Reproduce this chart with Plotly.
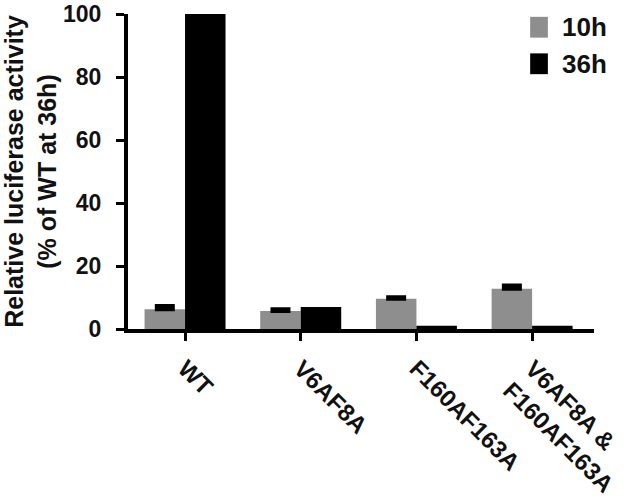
import plotly.graph_objects as go

# Data
categories = ["WT", "V6AF8A", "F160AF163A", "V6AF8A &<br>F160AF163A"]
vals_10h = [6.3, 5.7, 9.6, 12.8]
err_10h = [1.0, 0.6, 0.5, 1.0]
vals_36h = [100.0, 7.0, 1.0, 1.0]
series_names = ["10h", "36h"]

FONT = "Liberation Sans, Arial, sans-serif"
GRAY = "#8e8e8e"

fig = go.Figure()
fig.add_trace(go.Bar(
    x=categories, y=vals_10h, name=series_names[0], marker_color=GRAY,
    marker_line_width=0,
    error_y=dict(type="data", array=err_10h, arrayminus=[0] * 4, symmetric=False,
                 color="black", thickness=4, width=10),
))
fig.add_trace(go.Bar(
    x=categories, y=vals_36h, name=series_names[1], marker_color="black",
    marker_line_width=0,
))

# Legend drawn by hand so the swatches match the reference size
legend_items = [(GRAY, series_names[0], 0.925), ("black", series_names[1], 0.809)]
for color, label, y0 in legend_items:
    fig.add_shape(type="rect", xref="paper", yref="paper", x0=0.863, x1=0.901,
                  y0=y0, y1=y0 + 0.066, fillcolor=color, line_width=0)
    fig.add_annotation(xref="paper", yref="paper", x=0.928, y=y0 + 0.033,
                       text=label, showarrow=False, xanchor="left", yanchor="middle",
                       font=dict(family=FONT, size=26, color="#111", weight="bold"))

fig.update_layout(
    width=641, height=501,
    margin=dict(l=128, r=47, t=14, b=172, autoexpand=False),
    paper_bgcolor="white", plot_bgcolor="white",
    barmode="group", bargap=0.3, bargroupgap=0,
    showlegend=False,
    font=dict(family=FONT, size=25, color="#111", weight="bold"),
)
fig.update_xaxes(
    range=[-0.493, 3.535], tickangle=45, automargin=False,
    showline=True, linecolor="black", linewidth=4,
    ticks="outside", ticklen=8, tickwidth=3, tickcolor="black",
    ticklabelstandoff=4,
    showgrid=False, zeroline=False,
    tickfont=dict(family=FONT, size=24, color="#111", weight="bold"),
)
fig.update_yaxes(
    range=[0, 100], tickvals=[0, 20, 40, 60, 80, 100], automargin=False,
    showline=True, linecolor="black", linewidth=4,
    ticks="outside", ticklen=8, tickwidth=3, tickcolor="black",
    ticklabelstandoff=10, ticklabeloverflow="allow",
    showgrid=False, zeroline=False,
    tickfont=dict(family=FONT, size=23, color="#111", weight="bold"),
    title=dict(text="Relative luciferase activity<br>(% of WT at 36h)", standoff=8,
               font=dict(family=FONT, size=25, color="#111", weight="bold")),
)

# drop the default 8px body margin so the figure fills the window exactly
fig.write_html("out.html", config={"displayModeBar": False},
               post_script="document.body.style.margin='0';")
